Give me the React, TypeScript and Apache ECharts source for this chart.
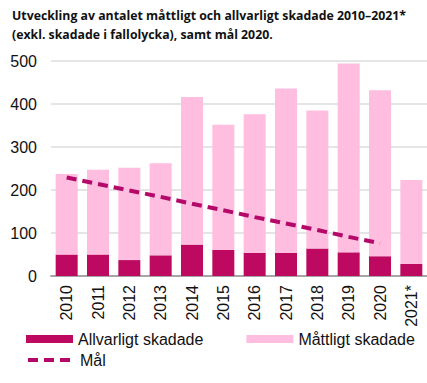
import React, { useEffect, useRef } from "react";
import * as echarts from "echarts";

const years = ["2010", "2011", "2012", "2013", "2014", "2015", "2016", "2017", "2018", "2019", "2020", "2021*"];
const allvarligt = [50, 50, 37, 48, 73, 61, 54, 54, 64, 55, 46, 28];
const mattligt = [187, 197, 215, 214, 343, 291, 322, 382, 321, 439, 386, 195];
const mal = [229, 214, 199, 184, 168, 153, 137, 122, 107, 91, 76, null];
const yTicks = [0, 100, 200, 300, 400, 500];

const DARK = "#bd0a60";
const LIGHT = "#ffbde0";
const LINE = "#b5096a";

export default function App() {
  const ref = useRef<HTMLDivElement>(null);
  useEffect(() => {
    const chart = echarts.init(ref.current!, null, { renderer: "svg" });
    chart.setOption({
      animation: false,
      title: {
        text: "Utveckling av antalet måttligt och allvarligt skadade 2010–2021*\n(exkl. skadade i fallolycka), samt mål 2020.",
        left: 7,
        top: 1,
        textStyle: {
          fontFamily: "Open Sans",
          fontWeight: "bold",
          fontSize: 12.3,
          lineHeight: 19,
          color: "#111",
        },
      },
      grid: { left: 51, top: 61, width: 379, height: 215, containLabel: false },
      legend: [
        {
          data: ["Allvarligt skadade", "Måttligt skadade"],
          left: 26,
          top: 331,
          padding: 0,
          itemWidth: 47,
          itemHeight: 8,
          itemGap: 43,
          textStyle: { fontFamily: "Liberation Sans", fontSize: 16, color: "#111" },
          icon: "rect",
        },
        {
          data: ["Mål"],
          left: 26,
          top: 352,
          padding: 0,
          itemWidth: 44,
          itemHeight: 8,
          itemStyle: { color: "rgba(0,0,0,0)", borderWidth: 0 },
          lineStyle: { width: 4, type: [10, 6] },
          textStyle: { fontFamily: "Liberation Sans", fontSize: 16, color: "#111", padding: [0, 0, 0, 3] },
        },
      ],
      xAxis: {
        type: "category",
        data: years,
        axisTick: { show: false },
        axisLine: { lineStyle: { color: "#a6a6a6", width: 2 } },
        axisLabel: {
          rotate: 90,
          margin: 9,
          fontFamily: "Liberation Sans",
          fontSize: 16,
          color: "#111",
          interval: 0,
        },
      },
      yAxis: {
        type: "value",
        min: yTicks[0],
        max: yTicks[yTicks.length - 1],
        interval: 100,
        axisLine: { show: false },
        axisTick: { show: false },
        splitLine: { lineStyle: { color: "#dcdcdc", width: 1.5 } },
        axisLabel: {
          margin: 14,
          fontFamily: "Liberation Sans",
          fontSize: 16,
          color: "#111",
        },
      },
      series: [
        {
          name: "Allvarligt skadade",
          type: "bar",
          stack: "s",
          data: allvarligt,
          barWidth: 22,
          itemStyle: { color: DARK },
        },
        {
          name: "Måttligt skadade",
          type: "bar",
          stack: "s",
          data: mattligt,
          barWidth: 22,
          itemStyle: { color: LIGHT },
        },
        {
          name: "Mål",
          type: "line",
          data: mal,
          symbol: "none",
          showSymbol: false,
          lineStyle: { color: LINE, width: 4, type: [10, 6] },
          itemStyle: { color: LINE },
        },
      ],
    });
    return () => chart.dispose();
  }, []);
  return <div ref={ref} style={{ width: 427, height: 383, position: "absolute", left: 0, top: 0 }} />;
}
